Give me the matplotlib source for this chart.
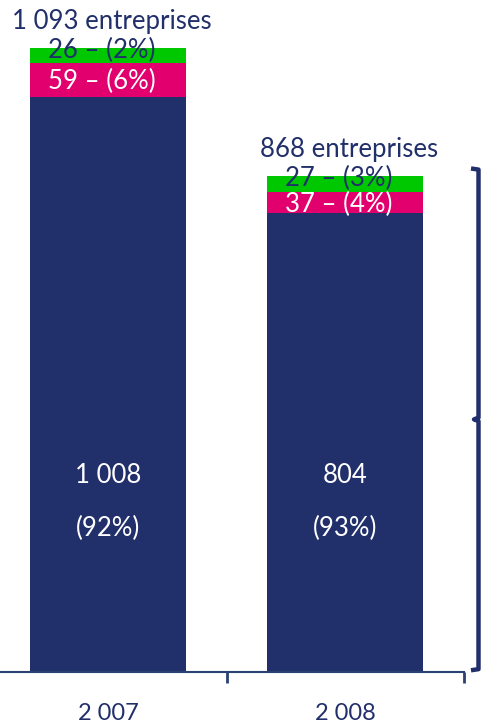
import matplotlib.pyplot as plt
from matplotlib.transforms import blended_transform_factory

years = ["2 007", "2 008"]
totals_txt = ["1 093 entreprises", "868 entreprises"]
navy_vals = [1008, 804]
pink_vals = [59, 37]
green_vals = [26, 27]
navy_txt = ["1 008", "804"]
navy_pct = [92, 93]
pink_pct = [6, 4]
green_pct = [2, 3]

NAVY = "#212F6A"
PINK = "#E2006F"
GREEN = "#00C800"
AXIS = "#2A4172"

plt.rcParams["font.family"] = ["Lato", "DejaVu Sans"]

fig = plt.figure(figsize=(4.83, 7.27), dpi=100)
ax = fig.add_axes([0, 55 / 727, 463.5 / 483, 672 / 727])

x = list(range(len(years)))
w = 0.66
ax.bar(x, navy_vals, width=w, color=NAVY)
ax.bar(x, pink_vals, width=w, bottom=navy_vals, color=PINK)
tops_pn = [a + b for a, b in zip(navy_vals, pink_vals)]
ax.bar(x, green_vals, width=w, bottom=tops_pn, color=GREEN)
totals = [a + b for a, b in zip(tops_pn, green_vals)]

fs = 18.5
for i in x:
    ax.annotate(totals_txt[i], (i, totals[i]), textcoords="offset pixels",
                xytext=(4, 19), ha="center", va="baseline", fontsize=fs, color=NAVY)
    ax.annotate(f"{green_vals[i]} – ({green_pct[i]}%)", (i, totals[i]),
                textcoords="offset pixels", xytext=(-6, -2), ha="center", va="center",
                fontsize=fs, color=NAVY)
    ax.annotate(f"{pink_vals[i]} – ({pink_pct[i]}%)", (i, navy_vals[i] + pink_vals[i] / 2),
                textcoords="offset pixels", xytext=(-6, -2), ha="center", va="center",
                fontsize=fs, color="white")
    ax.text(i, 344, navy_txt[i], ha="center", va="center", fontsize=fs, color="white")
    ax.text(i, 252, f"({navy_pct[i]}%)", ha="center", va="center", fontsize=fs, color="white")

ax.set_xlim(-0.456, 1.5)
ax.set_ylim(0, 672 / 0.5709)
ax.set_xticks(x)
ax.set_xticklabels(years, fontsize=fs - 1.5, color=NAVY)
ax.tick_params(axis="x", which="major", length=0, pad=22)
ax.set_xticks([0.5, 1.5], minor=True)
ax.tick_params(axis="x", which="minor", length=8, width=2, color=AXIS, direction="out")
ax.set_yticks([])
for s in ["top", "right", "left"]:
    ax.spines[s].set_visible(False)
ax.spines["bottom"].set_color(AXIS)
ax.spines["bottom"].set_linewidth(1.5)

# bracket on the right
tr = blended_transform_factory(fig.transFigure, ax.transData)
top = totals[1] + 14
bot = 3
mid = (top + bot) / 2
xr, xl, xn = 478.5 / 483, 471 / 483, 474 / 483
ax.plot([xl, xr, xr, xn, xr, xr, xl], [top, top - 2, mid + 3, mid, mid - 3, bot + 2, bot],
        transform=tr, color=NAVY, lw=3.2, solid_joinstyle="round",
        solid_capstyle="butt", clip_on=False)

fig.savefig("out.png", dpi=100)
